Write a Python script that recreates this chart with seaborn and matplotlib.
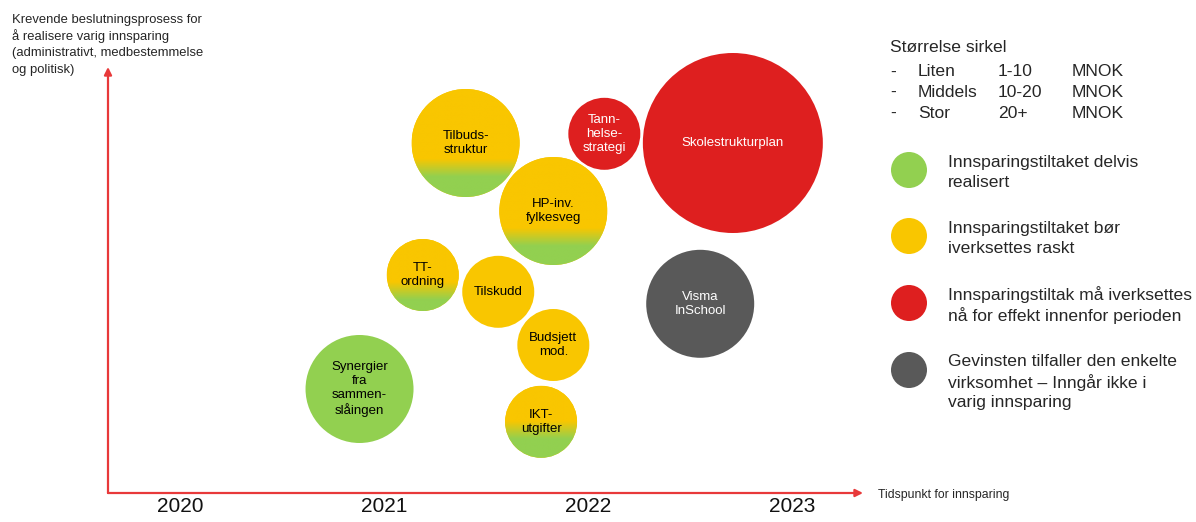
import numpy as np
import pandas as pd
import matplotlib
matplotlib.use("Agg")
import matplotlib.pyplot as plt
from matplotlib.patches import Ellipse, Circle
import seaborn as sns

# data
tiltak = ['Tilbuds-\nstruktur', 'Tann-\nhelse-\nstrategi', 'Skolestrukturplan',
          'HP-inv.\nfylkesveg', 'Visma\nInSchool', 'TT-\nordning', 'Tilskudd',
          'Budsjett\nmod.', 'IKT-\nutgifter', 'Synergier\nfra\nsammen-\nslåingen']
aar = [2021.40, 2022.08, 2022.71, 2021.83, 2022.55, 2021.19, 2021.56, 2021.83, 2021.77, 2020.88]
krevende = [8.75, 8.98, 8.75, 7.05, 4.73, 5.45, 5.03, 3.70, 1.78, 2.60]
storrelse = ['Middels', 'Liten', 'Stor', 'Middels', 'Middels', 'Liten', 'Liten', 'Liten', 'Liten', 'Middels']
status = ['bor', 'maa', 'maa', 'bor', 'gevinst', 'bor', 'bor', 'bor', 'bor', 'delvis']
andel_realisert = [0.27, 0, 0, 0.26, 0, 0.28, 0, 0, 0.39, 1.0]

aarstall = [2020, 2021, 2022, 2023]

storrelse_tekst = [('Liten', '1-10'), ('Middels', '10-20'), ('Stor', '20+')]
forklaring = [
    ('delvis', ['Innsparingstiltaket delvis', 'realisert']),
    ('bor', ['Innsparingstiltaket bør', 'iverksettes raskt']),
    ('maa', ['Innsparingstiltak må iverksettes', 'nå for effekt innenfor perioden']),
    ('gevinst', ['Gevinsten tilfaller den enkelte', 'virksomhet – Inngår ikke i', 'varig innsparing']),
]

farger = {'delvis': '#92D050', 'bor': '#F9C600', 'maa': '#DE1F1F', 'gevinst': '#595959'}
radius_px = {'Liten': 36, 'Middels': 54, 'Stor': 90}
akse_rod = '#E8393A'

sns.set_theme(style='white')
plt.rcParams['font.family'] = ['Liberation Sans', 'DejaVu Sans']

W, H = 1196, 522
fig = plt.figure(figsize=(W / 100, H / 100), dpi=100)
ax = fig.add_axes([108 / W, (H - 493) / H, 755 / W, 426 / H])
xlim = (2019.647, 2023.348)
ylim = (0, 10.65)
sx = 755 / (xlim[1] - xlim[0])
sy = 426 / (ylim[1] - ylim[0])

df = pd.DataFrame({'tiltak': tiltak, 'aar': aar, 'krevende': krevende,
                   'storrelse': storrelse, 'status': status, 'andel': andel_realisert})

sizes = {k: (2 * r * 0.72) ** 2 for k, r in radius_px.items()}
sns.scatterplot(data=df, x='aar', y='krevende', hue='status', palette=farger,
                size='storrelse', sizes=sizes, legend=False, linewidth=0,
                ax=ax, clip_on=False, zorder=2)

# yellow -> green gradient for partly realised measures
gul = np.array(matplotlib.colors.to_rgb(farger['bor']))
gronn = np.array(matplotlib.colors.to_rgb(farger['delvis']))
for _, rad in df.iterrows():
    if not (0 < rad['andel'] < 1):
        continue
    r = radius_px[rad['storrelse']]
    ell = Ellipse((rad['aar'], rad['krevende']), 2 * r / sx, 2 * r / sy,
                  facecolor='none', edgecolor='none', transform=ax.transData)
    ax.add_patch(ell)
    f = np.linspace(0, 1, 300)
    w = 18 / (2 * r)
    t = np.clip((f - (rad['andel'] - w / 2)) / w, 0, 1)
    img = (gronn[None, :] * (1 - t[:, None]) + gul[None, :] * t[:, None])[:, None, :]
    im = ax.imshow(img, extent=[rad['aar'] - r / sx, rad['aar'] + r / sx,
                                rad['krevende'] - r / sy, rad['krevende'] + r / sy],
                   origin='lower', aspect='auto', zorder=3, interpolation='bilinear')
    im.set_clip_path(ell)

for _, rad in df.iterrows():
    farge = 'white' if rad['status'] in ('maa', 'gevinst') else 'black'
    ax.text(rad['aar'], rad['krevende'], rad['tiltak'], ha='center', va='center',
            fontsize=9.5, color=farge, linespacing=1.2, zorder=4)

ax.set_xlim(*xlim)
ax.set_ylim(*ylim)
ax.set_xlabel('')
ax.set_ylabel('')
ax.set_xticks(aarstall)
ax.set_xticklabels([str(a) for a in aarstall], fontsize=15, color='#111111')
ax.tick_params(axis='x', length=0, pad=3)
ax.set_yticks([])
for s in ax.spines.values():
    s.set_visible(False)
ax.patch.set_alpha(0)

pil = dict(arrowstyle='-|>', color=akse_rod, lw=1.6, mutation_scale=11, shrinkA=0, shrinkB=0)
ax.annotate('', xy=(1, 0), xytext=(0, 0), xycoords='axes fraction', arrowprops=pil, annotation_clip=False)
ax.annotate('', xy=(0, 1), xytext=(0, 0), xycoords='axes fraction', arrowprops=pil, annotation_clip=False)

# overlay in pixel coordinates for legend and side labels
lax = fig.add_axes([0, 0, 1, 1])
lax.set_xlim(0, W)
lax.set_ylim(H, 0)
lax.axis('off')

ytekst = ['Krevende beslutningsprosess for', 'å realisere varig innsparing',
          '(administrativt, medbestemmelse', 'og politisk)']
for i, linje in enumerate(ytekst):
    lax.text(12, 20 + i * 16.5, linje, fontsize=9.4, va='center', ha='left')

lax.text(878, 495, 'Tidspunkt for innsparing', fontsize=8.8, va='center', ha='left')

lax.text(890, 48, 'Størrelse sirkel', fontsize=12.6, va='center')
for i, (navn, intervall) in enumerate(storrelse_tekst):
    y = 72 + i * 20.5
    lax.text(890, y, '-', fontsize=12.6, va='center')
    lax.text(918, y, navn, fontsize=12.6, va='center')
    lax.text(998, y, intervall, fontsize=12.6, va='center')
    lax.text(1072, y, 'MNOK', fontsize=12.6, va='center')

sirkel_y = [170, 236, 303, 370]
for (kode, linjer), cy in zip(forklaring, sirkel_y):
    lax.add_patch(Circle((909, cy), 18, color=farger[kode], lw=0))
    for j, linje in enumerate(linjer):
        lax.text(948, cy - 8 + j * 20.5, linje, fontsize=12.6, va='center')

fig.savefig('out.png', dpi=100)
